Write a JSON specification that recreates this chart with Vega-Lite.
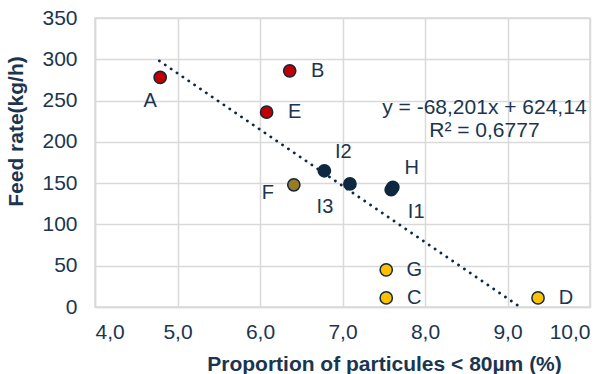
{
  "$schema": "https://vega.github.io/schema/vega-lite/v6.json",
  "autosize": {"type": "none"},
  "width": 495,
  "height": 289,
  "padding": {"left": 95, "top": 18, "right": 24, "bottom": 67},
  "background": "white",
  "config": {
    "font": "Liberation Sans",
    "view": {"stroke": "#D9D9D9", "strokeWidth": 1.5},
    "axis": {
      "gridColor": "#D9D9D9", "gridWidth": 1.5,
      "domainColor": "#D9D9D9", "domainWidth": 1.5,
      "ticks": false,
      "labelColor": "#1B3550", "labelFont": "Liberation Sans", "labelFontSize": 21,
      "titleColor": "#1B3550", "titleFont": "Liberation Sans", "titleFontSize": 21, "titleFontWeight": "bold"
    }
  },
  "datasets": {
    "pts": [
      {"label": "A", "x": 4.79, "y": 278, "group": "red"},
      {"label": "B", "x": 6.36, "y": 286, "group": "red"},
      {"label": "E", "x": 6.08, "y": 236, "group": "red"},
      {"label": "F", "x": 6.41, "y": 148, "group": "olive"},
      {"label": "I2", "x": 6.78, "y": 165, "group": "navy"},
      {"label": "I3", "x": 7.09, "y": 149, "group": "navy"},
      {"label": "H", "x": 7.61, "y": 145, "group": "navy"},
      {"label": "I1", "x": 7.59, "y": 142, "group": "navy"},
      {"label": "G", "x": 7.53, "y": 45, "group": "yellow"},
      {"label": "C", "x": 7.53, "y": 11, "group": "yellow"},
      {"label": "D", "x": 9.37, "y": 11, "group": "yellow"}
    ],
    "trend": [
      {"x": 4.78, "y": 298.1},
      {"x": 9.12, "y": 2.2}
    ]
  },
  "layer": [
    {
      "data": {"name": "trend"},
      "mark": {"type": "line", "color": "#0E2841", "strokeWidth": 2.8, "strokeDash": [0.1, 7], "strokeCap": "round"},
      "encoding": {
        "x": {"field": "x", "type": "quantitative", "scale": {"domain": [4, 10], "nice": false, "zero": false},
          "axis": {"values": [4, 5, 6, 7, 8, 9, 10], "labelExpr": "replace(format(datum.value, '.1f'), '.', ',')", "labelPadding": 14, "title": "Proportion of particules < 80µm (%)", "titlePadding": 11, "titleX": 289}},
        "y": {"field": "y", "type": "quantitative", "scale": {"domain": [0, 350], "nice": false},
          "axis": {"values": [0, 50, 100, 150, 200, 250, 300, 350], "labelPadding": 18, "title": "Feed rate(kg/h)", "titleY": 113, "titleX": -69}}
      }
    },
    {
      "data": {"name": "pts"},
      "mark": {"type": "circle", "opacity": 1, "stroke": "#0E2841", "strokeWidth": 1.5},
      "encoding": {
        "x": {"field": "x", "type": "quantitative"},
        "y": {"field": "y", "type": "quantitative"},
        "color": {"field": "group", "type": "nominal", "legend": null,
          "scale": {"domain": ["red", "olive", "navy", "yellow"], "range": ["#C00000", "#9A7A22", "#0E2841", "#FFC000"]}},
        "size": {"field": "group", "type": "nominal", "legend": null,
          "scale": {"domain": ["red", "olive", "navy", "yellow"], "range": [150, 150, 210, 150]}}
      }
    },
    {
      "data": {"name": "pts"},
      "transform": [{"filter": "indexof(['B','E','G','C','D'], datum.label) >= 0"}],
      "mark": {"type": "text", "dx": 28, "align": "center", "baseline": "middle", "fontSize": 20, "color": "#1B3550"},
      "encoding": {"x": {"field": "x", "type": "quantitative"}, "y": {"field": "y", "type": "quantitative"}, "text": {"field": "label"}}
    },
    {
      "data": {"name": "pts"},
      "transform": [{"filter": "datum.label == 'A'"}],
      "mark": {"type": "text", "dx": -10, "dy": 24, "align": "center", "baseline": "middle", "fontSize": 20, "color": "#1B3550"},
      "encoding": {"x": {"field": "x", "type": "quantitative"}, "y": {"field": "y", "type": "quantitative"}, "text": {"field": "label"}}
    },
    {
      "data": {"name": "pts"},
      "transform": [{"filter": "datum.label == 'F'"}],
      "mark": {"type": "text", "dx": -26, "dy": 8, "align": "center", "baseline": "middle", "fontSize": 20, "color": "#1B3550"},
      "encoding": {"x": {"field": "x", "type": "quantitative"}, "y": {"field": "y", "type": "quantitative"}, "text": {"field": "label"}}
    },
    {
      "data": {"name": "pts"},
      "transform": [{"filter": "datum.label == 'I2' || datum.label == 'H'"}],
      "mark": {"type": "text", "dx": 19, "dy": -19, "align": "center", "baseline": "middle", "fontSize": 20, "color": "#1B3550"},
      "encoding": {"x": {"field": "x", "type": "quantitative"}, "y": {"field": "y", "type": "quantitative"}, "text": {"field": "label"}}
    },
    {
      "data": {"name": "pts"},
      "transform": [{"filter": "datum.label == 'I3'"}],
      "mark": {"type": "text", "dx": -25, "dy": 23, "align": "center", "baseline": "middle", "fontSize": 20, "color": "#1B3550"},
      "encoding": {"x": {"field": "x", "type": "quantitative"}, "y": {"field": "y", "type": "quantitative"}, "text": {"field": "label"}}
    },
    {
      "data": {"name": "pts"},
      "transform": [{"filter": "datum.label == 'I1'"}],
      "mark": {"type": "text", "dx": 25, "dy": 22, "align": "center", "baseline": "middle", "fontSize": 20, "color": "#1B3550"},
      "encoding": {"x": {"field": "x", "type": "quantitative"}, "y": {"field": "y", "type": "quantitative"}, "text": {"field": "label"}}
    },
    {
      "data": {"values": [{}]},
      "mark": {"type": "text", "text": ["y = -68,201x + 624,14", "R² = 0,6777"], "lineHeight": 23, "align": "center", "baseline": "middle", "fontSize": 21, "color": "#1B3550"},
      "encoding": {"x": {"datum": 8.72}, "y": {"datum": 241}}
    }
  ]
}
